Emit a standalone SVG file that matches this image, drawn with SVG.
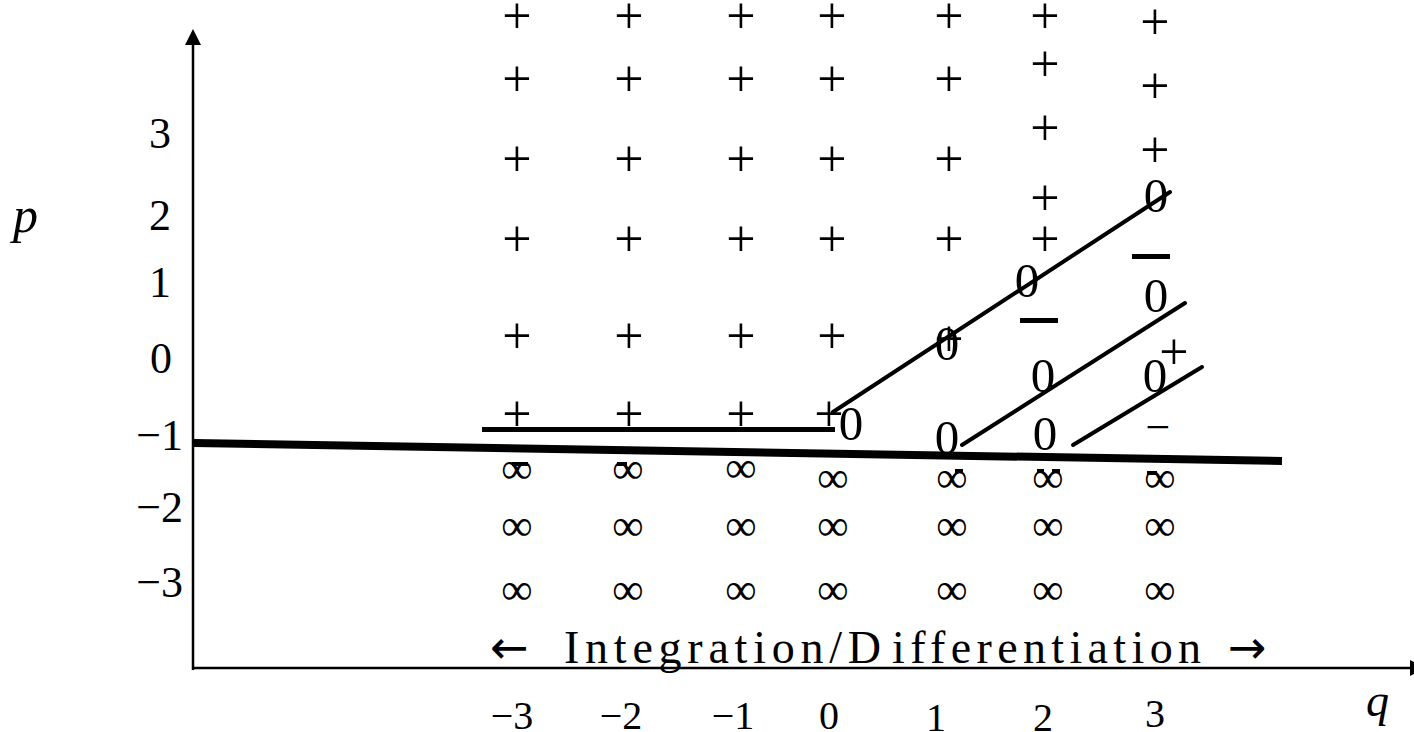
<svg xmlns="http://www.w3.org/2000/svg" width="1414" height="732" viewBox="0 0 1414 732">
<defs>
<style>
text { font-family: "Liberation Serif", "Times New Roman", serif; fill: #000; }
.pl { font-size: 52px; text-anchor: middle; }
.zr { font-size: 49px; text-anchor: middle; }
.inf { font-size: 44px; text-anchor: middle; }
.lab { font-size: 44px; }
.bl { font-size: 40px; text-anchor: middle; }
.arr { font-family: "DejaVu Sans", sans-serif; font-size: 46px; }
.axis { stroke: #000; stroke-width: 2.5; fill: none; }
.diag { stroke: #000; stroke-width: 4; stroke-linecap: round; fill: none; }
.bar { fill: #000; }
</style>
<marker id="arrow" viewBox="0 0 16 16" refX="0" refY="8" markerWidth="16" markerHeight="16" markerUnits="userSpaceOnUse" orient="auto">
<path d="M0,0 L16,8 L0,16 z" fill="#000"/>
</marker>
</defs>
<rect width="1414" height="732" fill="#fff"/>

<g id="axes">
<line class="axis" x1="193" y1="670" x2="193" y2="45" marker-end="url(#arrow)"/>
<line class="axis" x1="193" y1="668" x2="1410" y2="668" marker-end="url(#arrow)"/>
</g>

<g id="axis-labels">
<text x="13" y="232" style="font-style:italic;font-size:50px">p</text>
<text x="1366" y="716" style="font-style:italic;font-size:46px">q</text>
<g text-anchor="middle">
<text class="lab" x="160" y="148">3</text>
<text class="lab" x="160" y="230">2</text>
<text class="lab" x="160" y="297">1</text>
<text class="lab" x="161" y="373">0</text>
</g>
<g text-anchor="end">
<text class="lab" x="183" y="450">−1</text>
<text class="lab" x="183" y="522">−2</text>
<text class="lab" x="183" y="597">−3</text>
</g>
<text class="bl" x="512" y="729">−3</text>
<text class="bl" x="621" y="729">−2</text>
<text class="bl" x="733" y="729">−1</text>
<text class="bl" x="829" y="729">0</text>
<text class="bl" x="936" y="731">1</text>
<text class="bl" x="1043" y="731">2</text>
<text class="bl" x="1155" y="727">3</text>
<text y="663" style="font-size:46px"><tspan class="arr" x="490">←</tspan><tspan x="564" textLength="317" lengthAdjust="spacing">Integration/D</tspan><tspan x="892" textLength="309" lengthAdjust="spacing">ifferentiation</tspan><tspan class="arr" x="1228">→</tspan></text>
</g>

<g id="plus-grid">
<text class="pl" x="517" y="33">+</text><text class="pl" x="629" y="33">+</text><text class="pl" x="741" y="33">+</text><text class="pl" x="832" y="33">+</text><text class="pl" x="949" y="33">+</text><text class="pl" x="1045" y="33">+</text><text class="pl" x="1155" y="39">+</text>
<text class="pl" x="517" y="96">+</text><text class="pl" x="629" y="96">+</text><text class="pl" x="741" y="96">+</text><text class="pl" x="832" y="96">+</text><text class="pl" x="949" y="96">+</text><text class="pl" x="1045" y="81">+</text><text class="pl" x="1155" y="103">+</text>
<text class="pl" x="517" y="176">+</text><text class="pl" x="629" y="176">+</text><text class="pl" x="741" y="176">+</text><text class="pl" x="832" y="176">+</text><text class="pl" x="949" y="176">+</text><text class="pl" x="1045" y="145">+</text><text class="pl" x="1155" y="167">+</text>
<text class="pl" x="1045" y="215">+</text>
<text class="pl" x="517" y="256">+</text><text class="pl" x="629" y="256">+</text><text class="pl" x="741" y="256">+</text><text class="pl" x="832" y="256">+</text><text class="pl" x="949" y="256">+</text><text class="pl" x="1045" y="256">+</text>
<text class="pl" x="517" y="353">+</text><text class="pl" x="629" y="353">+</text><text class="pl" x="741" y="353">+</text><text class="pl" x="832" y="353">+</text><text class="pl" x="949" y="356">+</text>
<text class="pl" x="517" y="431">+</text><text class="pl" x="629" y="431">+</text><text class="pl" x="741" y="431">+</text><text class="pl" x="829" y="431">+</text>
<text class="pl" x="1174" y="369">+</text>
</g>

<g id="zeros">
<text class="zr" x="1156" y="212">0</text>
<text class="zr" x="1027" y="297">0</text>
<text class="zr" x="947" y="360">0</text>
<text class="zr" x="1156" y="312">0</text>
<text class="zr" x="1043" y="392">0</text>
<text class="zr" x="1155" y="392">0</text>
<text class="zr" x="947" y="454">0</text>
<text class="zr" x="1045" y="450">0</text>
<text class="zr" x="851" y="440">0</text>
<text x="1158" y="442" style="font-size:44px;text-anchor:middle">−</text>
<rect class="bar" x="1132" y="254" width="38" height="5"/>
<rect class="bar" x="1020" y="318" width="38" height="5"/>
</g>

<g id="infinity">
<text class="inf" x="517" y="483">∞</text><text class="inf" x="628" y="483">∞</text><text class="inf" x="741" y="482">∞</text><text class="inf" x="833" y="492">∞</text><text class="inf" x="952" y="492">∞</text><text class="inf" x="1048" y="492">∞</text><text class="inf" x="1160" y="492">∞</text>
<text class="inf" x="517" y="540">∞</text><text class="inf" x="628" y="540">∞</text><text class="inf" x="741" y="540">∞</text><text class="inf" x="833" y="540">∞</text><text class="inf" x="952" y="540">∞</text><text class="inf" x="1048" y="540">∞</text><text class="inf" x="1160" y="540">∞</text>
<text class="inf" x="517" y="604">∞</text><text class="inf" x="628" y="604">∞</text><text class="inf" x="741" y="604">∞</text><text class="inf" x="833" y="604">∞</text><text class="inf" x="952" y="604">∞</text><text class="inf" x="1048" y="604">∞</text><text class="inf" x="1160" y="604">∞</text>
<rect class="bar" x="512" y="462" width="16" height="4"/>
<rect class="bar" x="617" y="462" width="10" height="4"/>
<rect class="bar" x="955" y="469" width="8" height="4"/>
<rect class="bar" x="1037" y="469" width="7" height="4"/>
<rect class="bar" x="1052" y="469" width="8" height="4"/>
<rect class="bar" x="1147" y="471" width="10" height="4"/>
</g>

<g id="connectors">
<line x1="194" y1="443" x2="1282" y2="461" stroke="#000" stroke-width="8"/>
<line x1="482" y1="429.5" x2="835" y2="429.5" stroke="#000" stroke-width="5"/>
<line class="diag" x1="833" y1="412" x2="1170" y2="192"/>
<line class="diag" x1="962" y1="445" x2="1185" y2="303"/>
<line class="diag" x1="1073" y1="445" x2="1202" y2="367"/>
</g>
</svg>
